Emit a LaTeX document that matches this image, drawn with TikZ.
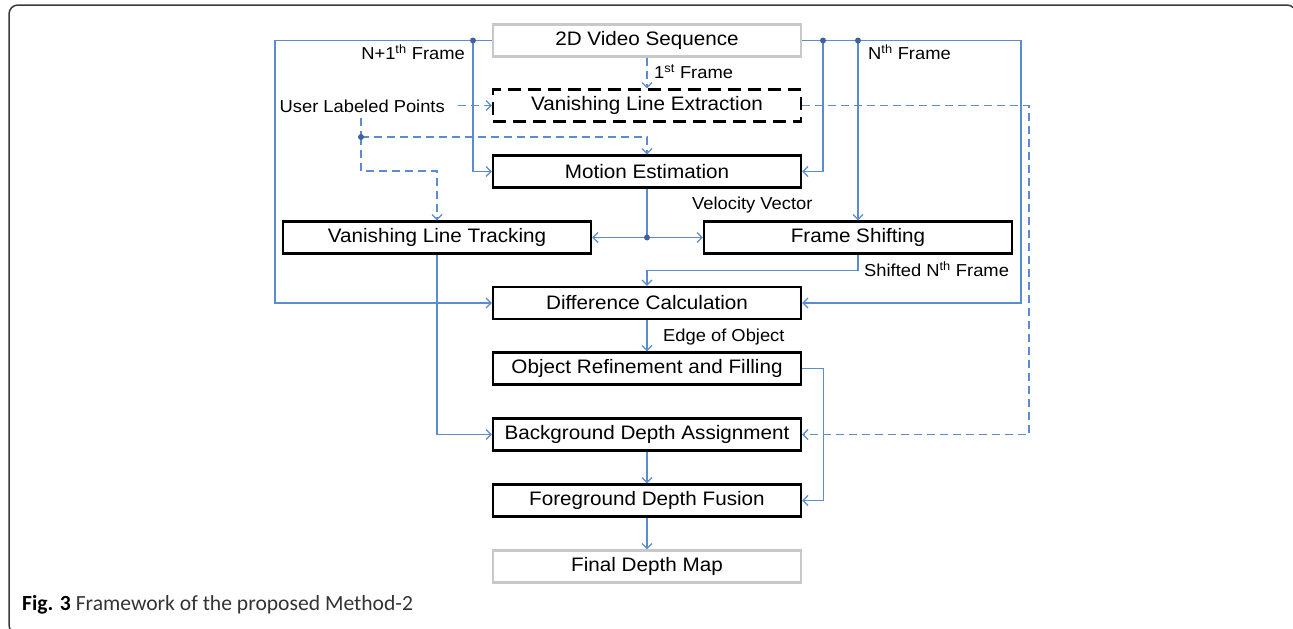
\documentclass[tikz,border=0pt]{standalone}
\usepackage{fontspec}
\setmainfont{Liberation Sans}
\newfontfamily\capfont{Carlito}
\usetikzlibrary{arrows.meta}
\definecolor{flow}{HTML}{5B8BD0}
\definecolor{junction}{HTML}{3F6299}
\definecolor{softgray}{HTML}{C8C8C8}
\definecolor{framegray}{HTML}{3A3A3A}
\definecolor{captext}{HTML}{333333}
% slightly widened lettering
\newcommand{\widetxt}[1]{\scalebox{1.06}[1]{#1}}

\begin{document}
\begin{tikzpicture}[x=1pt,y=-1pt,
  stage/.style={draw=black, line width=2.3pt, minimum width=308pt, minimum height=32pt,
                inner sep=0pt, font=\fontsize{19.5}{23}\selectfont},
  io/.style={stage, draw=softgray},
  guess/.style={stage, dash pattern=on 13pt off 7pt},
  link/.style={draw=flow, line width=1.3pt},
  hint/.style={link, dash pattern=on 8pt off 5pt},
  tip/.style={-{Straight Barb[length=5pt,width=10pt,line width=1.2pt]}},
  lbl/.style={inner sep=0pt, font=\fontsize{17.3}{20}\selectfont},
  dot/.style={fill=junction}
]
\useasboundingbox (0,0) rectangle (1293,629);

% outer frame of the figure panel
\begin{scope}
  \clip (0,0) rectangle (1293,629);
  \draw[framegray, line width=1.5pt, rounded corners=9pt] (9,5) rectangle (1296,634);
\end{scope}

% processing stages
\node[io]    (seq) at (647,40.5)  {\widetxt{2D Video Sequence}};
\node[guess] (vle) at (647,105.5) {\widetxt{Vanishing Line Extraction}};
\node[stage] (me)  at (647,171.5) {\widetxt{Motion Estimation}};
\node[stage] (vlt) at (437,237.5) {\widetxt{Vanishing Line Tracking}};
\node[stage] (fs)  at (858,237.5) {\widetxt{Frame Shifting}};
\node[stage] (dc)  at (647,303)   {\widetxt{Difference Calculation}};
\node[stage] (orf) at (647,368.5) {\widetxt{Object Refinement and Filling}};
\node[stage] (bda) at (647,434.5) {\widetxt{Background Depth Assignment}};
\node[stage] (fdf) at (647,500.5) {\widetxt{Foreground Depth Fusion}};
\node[io]    (fdm) at (647,566.5) {\widetxt{Final Depth Map}};

% text labels
\node[lbl, anchor=east] (ulp) at (445,106) {\widetxt{User Labeled Points}};
\node[lbl, anchor=east] (lnext) at (465,52) {\widetxt{N+1\textsuperscript{th} Frame}};
\node[lbl, anchor=west] (lcur) at (868,52) {\widetxt{N\textsuperscript{th} Frame}};
\node[lbl, anchor=west] (lfirst) at (654,72) {\widetxt{1\textsuperscript{st} Frame}};
\node[lbl, anchor=west] (lvel) at (692,205) {\widetxt{Velocity Vector}};
\node[lbl, anchor=west] (lshift) at (864,269) {\widetxt{Shifted N\textsuperscript{th} Frame}};
\node[lbl, anchor=west] (ledge) at (663,337) {\widetxt{Edge of Object}};

% junctions and routing points
\coordinate (farL) at (275,40.5);
\coordinate (jL)   at (473,40.5);
\coordinate (jR1)  at (823,40.5);
\coordinate (jR2)  at (858,40.5);
\coordinate (farR) at (1021,40.5);
\coordinate (uTop) at (361,118);
\coordinate (jU)   at (361,137);
\coordinate (uBend) at (361,171);
\coordinate (jV)   at (647,237.5);
\coordinate (dashR) at (1029,105.5);

% frame distribution from the video sequence
\draw[link,tip] (seq.west) -- (farL) |- (dc.west);
\draw[link,tip] (jL) |- (me.west);
\draw[link,tip] (seq.east) -- (farR) |- (dc.east);
\draw[link,tip] (jR1) |- (me.east);
\draw[link,tip] (jR2) -- (fs.north);
\draw[hint,tip] (seq.south) -- (vle.north);

% user labelled points
\draw[hint,tip] ([xshift=13pt]ulp.east |- vle.west) -- (vle.west);
\draw[hint] (uTop) -- (jU);
\draw[hint,tip] (jU) -| (me.north);
\draw[hint,tip] (jU) -- (uBend) -| (vlt.north);

% velocity vector split
\draw[link] (me.south) -- (jV);
\draw[link,tip] (jV) -- (vlt.east);
\draw[link,tip] (jV) -- (fs.west);

% lower chain
\draw[link,tip] (fs.south) -- ++(0,16) -| (dc.north);
\draw[link,tip] (vlt.south) |- (bda.west);
\draw[link,tip] (dc.south) -- (orf.north);
\draw[link,tip] (orf.east) -- ++(21,0) |- (fdf.east);
\draw[link,tip] (bda.south) -- (fdf.north);
\draw[link,tip] (fdf.south) -- (fdm.north);
\draw[hint,tip] (vle.east) -- (dashR) |- (bda.east);

% junction dots
\foreach \p in {jL,jR1,jR2,jU,jV} \fill[dot] (\p) circle (3pt);

% caption
\node[anchor=base west, inner sep=0pt, text=captext, font=\capfont\fontsize{21.6}{24}\selectfont]
  (cap) at (22,610) {\textbf{\color{black}Fig. 3} Framework of the proposed Method-2};
\end{tikzpicture}
\end{document}
